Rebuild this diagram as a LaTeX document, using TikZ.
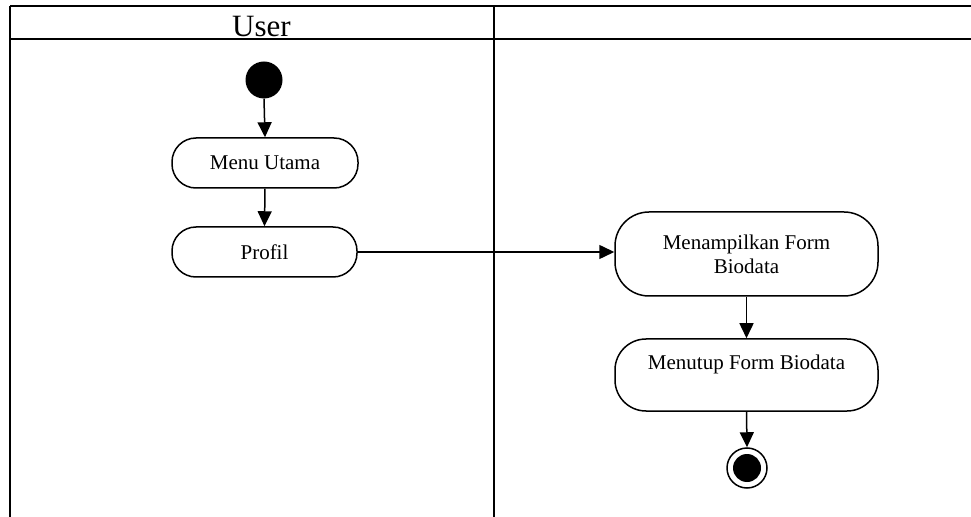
\documentclass[tikz,border=0pt]{standalone}
\usepackage{fontspec}
\setmainfont{Liberation Serif}
\usetikzlibrary{arrows.meta}
\begin{document}
\begin{tikzpicture}[x=1bp,y=-1bp,
  lane/.style={line width=1.6bp, draw=black},
  act/.style={draw, line width=1.5bp, inner sep=0pt, align=center,
    font=\fontsize{21bp}{24bp}\selectfont},
  flow/.style={line width=1.5bp, -{Triangle[length=15bp,width=14bp]}},
  startdot/.style={circle, fill=black, minimum size=37bp, inner sep=0pt},
  endring/.style={circle, draw, line width=1.5bp, fill=white, minimum size=40bp, inner sep=0pt},
  enddot/.style={circle, fill=black, minimum size=28bp, inner sep=0pt}]
\useasboundingbox (0,0) rectangle (971,517);
% swimlanes
\coordinate (tl) at (10,6);
\coordinate (tr) at (971,6);
\coordinate (hl) at (10,39);
\coordinate (hr) at (971,39);
\coordinate (bl) at (10,517);
\coordinate (mt) at (494,6);
\coordinate (mb) at (494,517);
\draw[lane] (tl) -- (tr);
\draw[lane] (hl) -- (hr);
\draw[lane] (tl) -- (bl);
\draw[lane] (mt) -- (mb);
\node[anchor=base, font=\fontsize{31bp}{34bp}\selectfont, inner sep=0pt] (user) at (261.5,37) {User};
% nodes
\node[startdot] (start) at (264,80) {};
\node[act, minimum width=186bp, minimum height=50bp, rounded corners=24bp] (menu) at (265,163) {Menu Utama};
\node[act, minimum width=185bp, minimum height=50bp, rounded corners=24bp] (profil) at (264.5,252) {Profil};
\node[act, minimum width=263bp, minimum height=84bp, rounded corners=34bp] (tampil) at (746.5,254) {Menampilkan Form\\Biodata};
\node[act, minimum width=263bp, minimum height=72bp, rounded corners=31bp, text height=15bp, text depth=25bp] (tutup) at (746.5,375) {Menutup Form Biodata};
\node[endring] (end) at (747,468) {};
\node[enddot] (endin) at (end.center) {};
% connectors
\draw[flow] (start.south) -- (menu.north);
\draw[flow] (menu.south) -- (profil.north);
\draw[flow] (profil.east) -- (profil.east -| tampil.west);
\draw[flow] (tampil.south) -- (tutup.north);
\draw[flow] (tutup.south) -- (end.north);
\end{tikzpicture}
\end{document}
